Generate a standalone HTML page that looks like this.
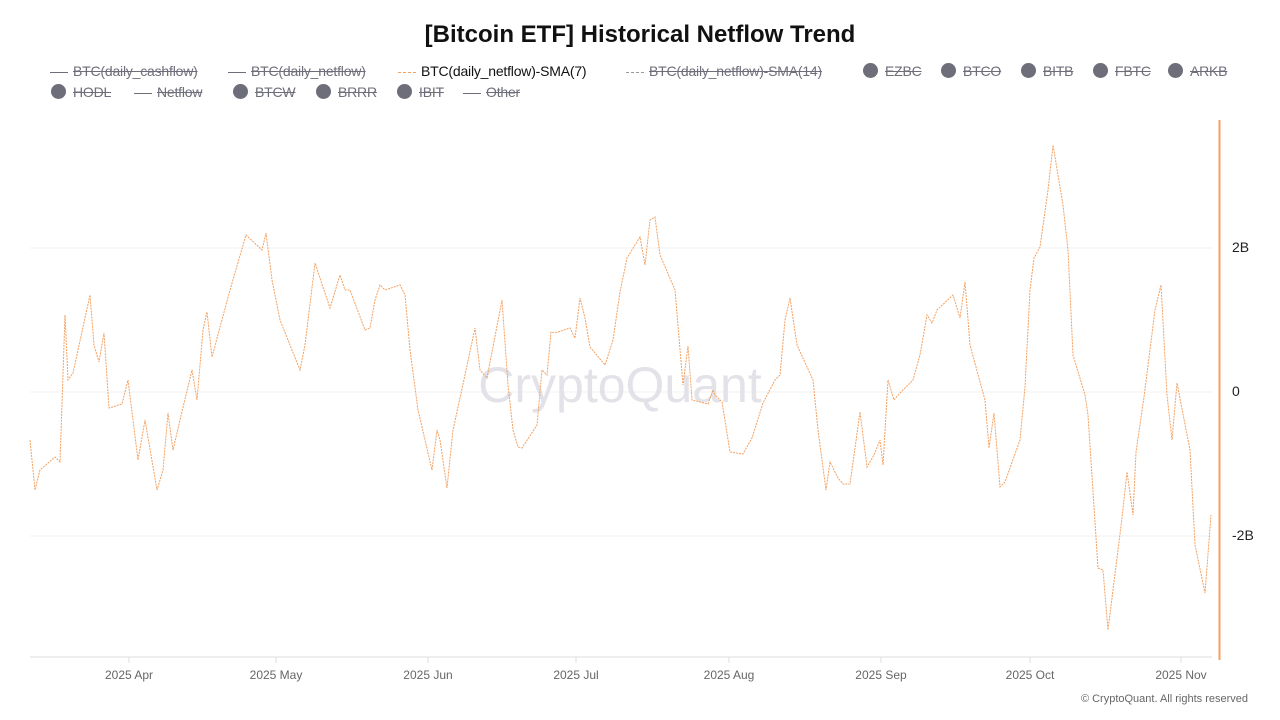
<!DOCTYPE html>
<html><head><meta charset="utf-8"><style>
body{margin:0;width:1280px;height:720px;background:#fff;font-family:"Liberation Sans",sans-serif;overflow:hidden;position:relative}
.t{position:absolute;top:21px;left:0;width:1280px;text-align:center;font-size:24px;font-weight:bold;color:#111}
.lg{position:absolute;font-size:14px;color:#6e6e7a;white-space:nowrap;letter-spacing:-0.2px}
.s{text-decoration:line-through}
.ln{display:inline-block;width:18px;height:0;border-top:1.5px solid #6e6e7a;vertical-align:middle;margin-right:5px}
.dt{display:inline-block;width:15px;height:15px;border-radius:50%;background:#6e6e7a;vertical-align:middle;margin-right:7px;position:relative;top:-2px}
</style></head><body>
<div class="t">[Bitcoin ETF] Historical Netflow Trend</div>
<div class="lg" style="left:50px;top:63px"><span class="ln"></span><span class="s">BTC(daily_cashflow)</span></div>
<div class="lg" style="left:228px;top:63px"><span class="ln"></span><span class="s">BTC(daily_netflow)</span></div>
<div class="lg" style="left:398px;top:63px;color:#111"><span class="ln" style="border-top:1px dashed #f4a060"></span>BTC(daily_netflow)-SMA(7)</div>
<div class="lg" style="left:626px;top:63px"><span class="ln" style="border-top:1px dashed #999"></span><span class="s">BTC(daily_netflow)-SMA(14)</span></div>
<div class="lg" style="left:863px;top:63px"><span class="dt"></span><span class="s">EZBC</span></div>
<div class="lg" style="left:941px;top:63px"><span class="dt"></span><span class="s">BTCO</span></div>
<div class="lg" style="left:1021px;top:63px"><span class="dt"></span><span class="s">BITB</span></div>
<div class="lg" style="left:1093px;top:63px"><span class="dt"></span><span class="s">FBTC</span></div>
<div class="lg" style="left:1168px;top:63px"><span class="dt"></span><span class="s">ARKB</span></div>
<div class="lg" style="left:51px;top:84px"><span class="dt"></span><span class="s">HODL</span></div>
<div class="lg" style="left:134px;top:84px"><span class="ln"></span><span class="s">Netflow</span></div>
<div class="lg" style="left:233px;top:84px"><span class="dt"></span><span class="s">BTCW</span></div>
<div class="lg" style="left:316px;top:84px"><span class="dt"></span><span class="s">BRRR</span></div>
<div class="lg" style="left:397px;top:84px"><span class="dt"></span><span class="s">IBIT</span></div>
<div class="lg" style="left:463px;top:84px"><span class="ln"></span><span class="s">Other</span></div>
<svg width="1280" height="720" style="position:absolute;left:0;top:0">
<g stroke="#f1f1f1" stroke-width="1"><line x1="30" x2="1212" y1="248" y2="248"/><line x1="30" x2="1212" y1="392" y2="392"/><line x1="30" x2="1212" y1="536" y2="536"/></g>
<text x="620" y="402" text-anchor="middle" font-size="50" fill="#e2e2e8" font-family="Liberation Sans">CryptoQuant</text>
<line x1="30" x2="1212" y1="657" y2="657" stroke="#ddd"/>
<g stroke="#ddd"><line x1="129" x2="129" y1="657" y2="663"/><line x1="276" x2="276" y1="657" y2="663"/><line x1="428" x2="428" y1="657" y2="663"/><line x1="576" x2="576" y1="657" y2="663"/><line x1="729" x2="729" y1="657" y2="663"/><line x1="881" x2="881" y1="657" y2="663"/><line x1="1030" x2="1030" y1="657" y2="663"/><line x1="1181" x2="1181" y1="657" y2="663"/></g>
<g font-size="12" fill="#666" text-anchor="middle"><text x="129" y="679">2025 Apr</text><text x="276" y="679">2025 May</text><text x="428" y="679">2025 Jun</text><text x="576" y="679">2025 Jul</text><text x="729" y="679">2025 Aug</text><text x="881" y="679">2025 Sep</text><text x="1030" y="679">2025 Oct</text><text x="1181" y="679">2025 Nov</text></g>
<line x1="1219.5" x2="1219.5" y1="120" y2="660" stroke="#f4a060" stroke-width="2"/>
<g font-size="14" fill="#222"><text x="1232" y="252">2B</text><text x="1232" y="396">0</text><text x="1232" y="540">-2B</text></g>
<polyline fill="none" stroke="#f4a060" stroke-width="1" stroke-dasharray="2,1" points="30,440 35,490 40,470 55,457 60,462 65,315 68,380 73,373 90,295 94,345 99,362 104,333 109,408 122,404 128,380 133,420 138,460 145,420 157,490 163,470 168,413 173,450 180,420 192,370 197,400 203,330 207,312 212,357 230,290 246,235 262,250 266,233 272,280 280,320 300,370 305,345 315,263 330,308 340,275 345,290 350,290 365,330 370,328 375,300 380,285 385,290 400,285 405,295 410,350 418,410 432,470 437,430 440,440 447,488 453,430 465,375 475,328 480,370 487,378 502,300 508,385 513,430 518,447 522,448 537,425 542,370 547,375 551,332 555,333 570,328 575,338 580,298 585,318 590,347 605,365 613,340 620,292 627,258 640,237 645,265 650,220 655,217 660,255 675,290 683,385 688,346 692,400 708,404 713,390 715,395 722,402 730,452 743,454 752,438 763,403 775,380 780,375 785,320 790,298 797,345 813,380 818,430 826,490 830,462 838,478 843,484 850,484 860,412 867,467 874,455 880,440 883,465 888,380 894,400 900,393 913,380 920,355 927,315 932,323 937,310 953,295 960,318 965,282 970,345 985,400 989,448 994,413 1000,487 1005,482 1020,440 1025,387 1030,290 1034,258 1040,247 1048,190 1053,145 1063,205 1068,250 1073,355 1085,395 1088,415 1098,568 1103,570 1108,630 1122,518 1127,472 1133,515 1136,452 1144,397 1155,310 1161,285 1167,395 1172,440 1177,383 1190,450 1195,545 1205,593 1211,515"/>
<text x="1248" y="702" font-size="11" fill="#666" text-anchor="end">© CryptoQuant. All rights reserved</text>
</svg>
</body></html>
